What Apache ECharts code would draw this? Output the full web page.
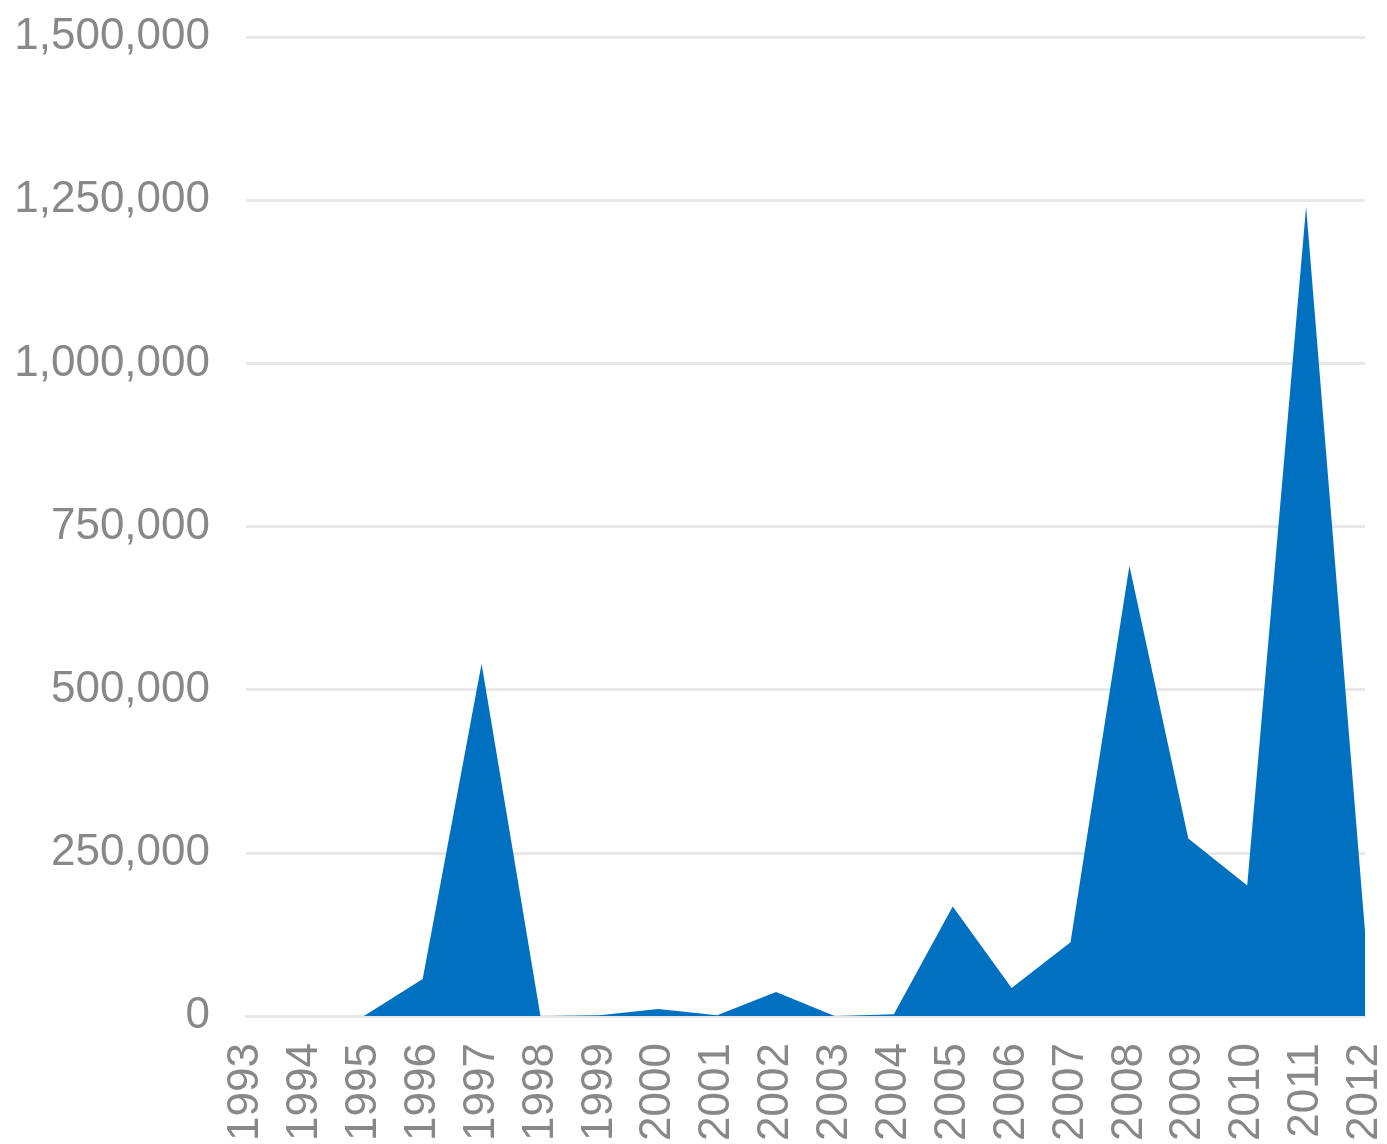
<!DOCTYPE html>
<html>
<head>
<meta charset="utf-8">
<title>Annual totals, 1993–2012</title>
<script src="https://cdn.jsdelivr.net/npm/echarts@6/dist/echarts.min.js"></script>
<style>
  html, body { margin: 0; padding: 0; background: #ffffff; }
  #chart { width: 1387px; height: 1144px; }
</style>
</head>
<body>
<div id="chart"></div>
<script>
// Years on the category axis
const years = ['1993', '1994', '1995', '1996', '1997', '1998', '1999', '2000', '2001', '2002',
               '2003', '2004', '2005', '2006', '2007', '2008', '2009', '2010', '2011', '2012'];

// Yearly totals
const totals = [0, 0, 0, 57000, 540000, 0, 1500, 11000, 1500, 37000,
                0, 3000, 168000, 43000, 113000, 690000, 272000, 200000, 1240000, 130000];

// Value axis ticks
const yMin = 0;
const yMax = 1500000;
const yStep = 250000;

const labelColor = '#888888';
const gridColor = '#e8e8e8';
const fillColor = '#0070c0';

const chart = echarts.init(document.getElementById('chart'), null, { renderer: 'canvas' });

chart.setOption({
  backgroundColor: '#ffffff',
  animation: false,
  grid: { left: 246, right: 17, top: 37, bottom: 126, containLabel: false },
  xAxis: {
    type: 'category',
    data: years,
    boundaryGap: false,
    axisLine: { show: true, lineStyle: { color: gridColor, width: 3 } },
    axisTick: { show: false },
    axisLabel: {
      rotate: 90,
      margin: 27,
      interval: 0,
      color: labelColor,
      fontFamily: 'Liberation Sans, Arial, sans-serif',
      fontSize: 44
    },
    splitLine: { show: false }
  },
  yAxis: {
    type: 'value',
    min: yMin,
    max: yMax,
    interval: yStep,
    axisLine: { show: false },
    axisTick: { show: false },
    axisLabel: {
      margin: 36,
      color: labelColor,
      fontFamily: 'Liberation Sans, Arial, sans-serif',
      fontSize: 44,
      formatter: v => v.toLocaleString('en-US')
    },
    splitLine: { show: true, lineStyle: { color: gridColor, width: 3 } }
  },
  series: [{
    type: 'line',
    data: totals,
    symbol: 'none',
    smooth: false,
    lineStyle: { width: 0, color: fillColor },
    itemStyle: { color: fillColor },
    areaStyle: { color: fillColor, opacity: 1 }
  }]
});
</script>
</body>
</html>
